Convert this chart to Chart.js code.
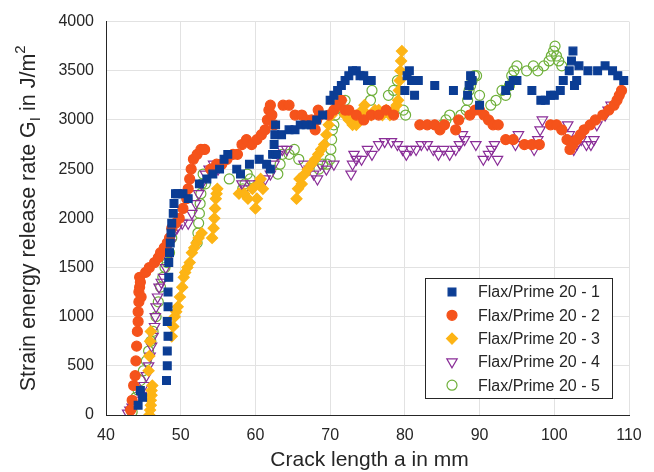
<!DOCTYPE html>
<html>
<head>
<meta charset="utf-8">
<script src="https://cdn.jsdelivr.net/npm/chart.js"></script>
<style>
  html, body { margin: 0; padding: 0; background: #fff; }
  #wrap { width: 654px; height: 472px; }
</style>
</head>
<body>
<div id="wrap"><canvas id="myChart"></canvas></div>
<script>
const seriesNames = ['Flax/Prime 20 - 1', 'Flax/Prime 20 - 2', 'Flax/Prime 20 - 3', 'Flax/Prime 20 - 4', 'Flax/Prime 20 - 5'];
const xTicks = [40, 50, 60, 70, 80, 90, 100, 110];
const yTicks = [0, 500, 1000, 1500, 2000, 2500, 3000, 3500, 4000];

// Flax/Prime 20 - 1
const s1x = [44.3,44.6,44.9, 48.1,48.2,48.2,48.3,48.2,48.3,48.3,48.4,48.4,48.5,48.6,48.7,48.8,49.0,49.1,49.3,49.6,50.3,51.0,
  52.5,53.5,54.3,55.2,55.8,56.3,57.5,58.0,59.2,60.5,61.5,62.0,62.3,62.5,62.6,62.7,62.8,63.5,64.5,65.3,66.0,66.8,67.5,68.2,69.0,
  70.0,70.5,71.0,71.5,72.0,72.5,73.0,73.5,74.0,74.5,75.0,75.5, 80.0,80.3,80.6,80.9,81.3,81.8, 84.0, 86.5, 88.4,88.6,88.8,89.0,
  90.0, 93.5,94.0,94.5,95.0, 97.0, 98.2,98.8,99.5,100.0, 100.8,101.2, 102.0,102.3,102.5,102.7,103.0,103.3, 104.5,105.8,106.8,107.8,108.5,109.3];
const s1y = [100,250,180, 350,500,650,800,950,1100,1250,1400,1550,1650,1750,1850,1950,2050,2150,2250,2250,2250,2200,
  2350,2400,2450,2500,2600,2650,2500,2450,2550,2600,2550,2500,2650,2750,2850,2950,2650,2850,2900,2900,2950,2950,2950,3000,3050,
  3200,3250,3300,3350,3400,3450,3500,3500,3450,3450,3400,3400, 3300,3450,3500,3400,3250,3400, 3350, 3300, 3250,3350,3450,3400,
  3150, 3300,3350,3400,3400, 3300, 3200,3200,3250,3250, 3300,3400, 3500,3600,3700,3350,3400,3550, 3500,3500,3550,3500,3450,3400];

// Flax/Prime 20 - 2
const s2x = [43.3,43.5,43.7,43.9,44.0,44.1,44.2,44.3,44.3,44.4,44.4,44.5,44.5,44.6,44.7, 45.3,45.8,46.5,47.0,47.3,47.8,48.2,
  48.5,48.8,49.3,49.8,50.3,50.8,51.0,51.2,51.4,51.7,52.2,52.7,53.2, 54.0,54.8,55.5,56.2,57.0,57.6,58.2,58.8,59.5,60.2,60.8,61.3,
  61.6,61.8,62.0,62.2,62.5, 63.7,64.5,65.3,66.2,66.8,67.5,68.0,68.2,68.4,68.6, 69.8,70.5,71.0,71.5,72.0,72.5,73.5,74.5,75.5,76.5,
  77.5,78.5, 82.0,83.0,84.0,84.7,85.3,86.8,87.2,88.7,89.4,90.0,90.6,91.2,91.8,92.5,93.5,94.5,96.0,97.0,98.0,99.5,100.3,101.0,
  101.7,102.1,102.5,103.0,103.5,104.0,104.8,105.5,106.5,107.3,108.0,108.4,108.7,109.0];
const s2y = [50,150,300,400,550,700,850,950,1050,1150,1250,1300,1400,1350,1200, 1450,1500,1550,1600,1650,1700,1750,
  1800,1900,1950,2000,2100,2200,2300,2400,2500,2600,2650,2700,2700, 2500,2550,2550,2600,2650,2650,2750,2800,2750,2800,2850,2900,
  3000,3100,3150,3050,2950, 3150,3150,3050,3050,3000,3000,2900,3000,3100,3050, 3050,3100,3150,3200,3100,3100,3050,3000,3050,3050,
  3100,3050, 2950,2950,2950,2900,2950,2900,3000,3050,3100,3100,3050,3000,2950,2950,2800,2800,2750,2750,2750,2950,2950,2900,
  2800,2700,2750,2800,2850,2900,2950,3000,3050,3100,3150,3200,3250,3300,3250];

// Flax/Prime 20 - 3
const s3x = [45.8,45.9,46.0,46.0,46.1,46.1,46.2, 45.7,45.8,45.9,46.0, 48.8,49.0,49.2,49.4,49.6,49.9,50.2,50.4,50.6,50.9,51.2,
  51.5,51.8,52.1,52.4,52.8, 54.2,54.4,54.5,54.6,54.7,54.8,54.9, 57.8,58.5,59.0,59.6,60.0,60.2,60.4,60.7,61.0, 65.5,65.7,65.9,
  66.2,66.6,67.0,67.5,68.0,68.4,68.8,69.2,69.5,69.8,70.2,70.6,71.0,71.5,72.0,72.5,73.0,73.5,74.0,74.3,74.6,75.0,75.5,76.0,76.5,
  77.0,77.5,78.0,78.5,78.9,79.1,79.2,79.3,79.4,79.5,79.6];
const s3y = [0,50,100,150,200,250,300, 450,600,750,850, 800,900,1000,1050,1100,1200,1300,1400,1450,1500,1550,
  1650,1700,1750,1800,1850, 1800,1900,2000,2100,2200,2250,2300, 2250,2250,2200,2300,2100,2200,2350,2400,2300, 2200,2300,2400,
  2350,2450,2500,2550,2600,2650,2700,2750,2850,2950,3050,3100,3150,3200,3050,3000,2950,2950,3000,3100,3150,3050,3050,3100,3100,
  3050,3100,3050,3100,3150,3200,3300,3400,3500,3600,3700,3150];

// Flax/Prime 20 - 4
const s4x = [42.9,43.2,43.5,43.9,44.3,44.7,45.1,45.4,45.7,45.9,46.1,46.3,46.5,46.6,46.7,46.9,47.1,47.4,47.7,48.0,48.3,48.6,
  49.0,49.5,50.2,51.0,51.5,52.0,52.4,52.8,53.3,53.8,54.4,55.0, 58.2,58.7,59.5,60.5,61.3,62.0,62.5,63.0,63.6,64.2, 66.5,67.2,
  67.8,68.3,68.7,69.5,70.5, 72.8,73.0,73.2,73.5,74.2,75.0,75.6,76.5,77.3,78.2,79.0,79.7,80.2,80.8,81.5,82.2,83.0,83.8,84.5,
  85.2,86.0,86.8,87.3,87.7,88.0,89.5,90.5,91.2,91.6,92.0,92.4,94.8,95.2,97.3,97.8,98.1,98.4,101.8,102.0,102.3,102.6,103.0,
  103.6,104.3,104.9,105.3,105.7,106.8,107.2,107.6];
const s4y = [20,50,80,100,150,200,300,400,500,600,700,800,900,1000,1100,1200,1300,1350,1400,1500,1600,1750,
  1850,1900,1950,1950,2050,2150,2250,2350,2450,2500,2550,2500, 2350,2300,2350,2350,2400,2450,2550,2650,2700,2700, 2550,2500,
  2450,2400,2550,2500,2550, 2450,2550,2650,2600,2600,2700,2650,2750,2780,2780,2750,2700,2650,2700,2700,2750,2750,2700,2650,
  2700,2650,2700,2750,2850,2800,2750,2600,2650,2700,2750,2600,2750,2850,2700,2800,2900,3000,2950,2850,2800,2700,2750,
  2800,2750,2750,2800,2950,3050,3100,3150,3050];

// Flax/Prime 20 - 5
const s5x = [43.5,43.7,44.0,44.3,44.6,45.0,45.4,45.7,46.0,46.3,46.7,47.0,47.3,47.6,47.9,48.2,48.5,48.8, 52.2,52.3,52.4,52.5,
  52.6,52.7,52.8,53.0,53.3, 56.5,58.3,58.6,58.9,59.3, 63.0,63.3,63.6,64.5,65.2,65.8, 68.5,69.0,69.6,70.0,70.1,70.2,70.3,70.5,
  70.7,71.0,71.3,71.6,72.0,72.5,73.0,75.4,75.6,77.8,78.5,79.0,79.8,80.1, 85.0,85.5,86.0,87.5,88.2,88.4,88.6,88.8,89.0,89.3,
  89.6,90.0,91.5,92.2,93.0,93.5,94.0,94.3,94.6,95.0,96.3,97.2,97.8,98.6,99.3,99.6,99.9,100.1,100.3,100.6,101.0];
const s5y = [30,100,180,250,350,450,550,650,750,850,1000,1150,1300,1400,1500,1550,1650,1800, 1750,1850,1950,2050,
  2150,2250,2350,2450,2350, 2400,2300,2350,2450,2400, 2450,2550,2650,2650,2700,2600, 2500,2550,2550,2600,2700,2800,2900,2950,
  3050,3150,3200,3100,3200,3050,3000,3200,3300,3250,3300,3400,3100,3050, 2950,3000,3050,3050,3100,3200,3300,3350,3400,3450,
  3450,3250,3150,3200,3300,3250,3350,3450,3500,3550,3500,3550,3500,3550,3600,3650,3700,3750,3650,3600,3550];

const FONT = "'Liberation Sans', Arial, sans-serif";
const INK = '#262626';

const styles = [
  { color: '#0b3d94', fill: '#0b3d94', pointStyle: 'rect', radius: 5.5, rotation: 0 },
  { color: '#f5531b', fill: '#f5531b', pointStyle: 'circle', radius: 5, rotation: 0 },
  { color: '#fdb415', fill: '#fdb415', pointStyle: 'rectRot', radius: 5.5, rotation: 0 },
  { color: '#8a2e98', fill: 'rgba(255,255,255,0)', pointStyle: 'triangle', radius: 6, rotation: 180 },
  { color: '#6fb03a', fill: 'rgba(255,255,255,0)', pointStyle: 'circle', radius: 5, rotation: 0 }
];

function zip(xs, ys) {
  return xs.map((x, i) => ({ x: x, y: ys[i] }));
}
const allX = [s1x, s2x, s3x, s4x, s5x];
const allY = [s1y, s2y, s3y, s4y, s5y];

const datasets = seriesNames.map((name, i) => ({
  label: name,
  data: zip(allX[i], allY[i]),
  showLine: false,
  pointStyle: styles[i].pointStyle,
  pointRotation: styles[i].rotation,
  pointRadius: styles[i].radius,
  pointBackgroundColor: styles[i].fill,
  pointBorderColor: styles[i].color,
  pointBorderWidth: 1.2
}));

// titles with sub/superscript + boxed legend inside the plot
const decorations = {
  id: 'decorations',
  afterDraw(chart) {
    const ctx = chart.ctx;
    const area = chart.chartArea;
    ctx.save();
    ctx.fillStyle = INK;

    // x title
    ctx.font = '21px ' + FONT;
    ctx.textAlign = 'center';
    ctx.textBaseline = 'alphabetic';
    ctx.fillText('Crack length a in mm', (area.left + area.right) / 2 + 2, 466);

    // y title, rotated
    const main = '21.5px ' + FONT, small = '15px ' + FONT;
    const parts = [
      { t: 'Strain energy release rate G', f: main, dy: 0 },
      { t: 'I', f: small, dy: 5 },
      { t: ' in J/m', f: main, dy: 0 },
      { t: '2', f: small, dy: -10 }
    ];
    let total = 0;
    parts.forEach(p => { ctx.font = p.f; p.w = ctx.measureText(p.t).width; total += p.w; });
    ctx.translate(35, (area.top + area.bottom) / 2);
    ctx.rotate(-Math.PI / 2);
    ctx.textAlign = 'left';
    let cx = -total / 2;
    parts.forEach(p => {
      ctx.font = p.f;
      ctx.fillText(p.t, cx, p.dy);
      cx += p.w;
    });
    ctx.restore();

    // legend
    ctx.save();
    const bx = 425, by = 278, bw = 187, bh = 120;
    ctx.fillStyle = '#ffffff';
    ctx.fillRect(bx, by, bw, bh);
    ctx.strokeStyle = '#262626';
    ctx.lineWidth = 1;
    ctx.strokeRect(bx + 0.5, by + 0.5, bw, bh);
    ctx.font = '16px ' + FONT;
    ctx.textBaseline = 'middle';
    ctx.textAlign = 'left';
    seriesNames.forEach((name, i) => {
      const yy = by + 14 + i * 23.3;
      const st = styles[i];
      ctx.fillStyle = st.fill === 'rgba(255,255,255,0)' ? '#ffffff' : st.fill;
      ctx.strokeStyle = st.color;
      ctx.lineWidth = 1.2;
      Chart.helpers.drawPoint(ctx, {
        pointStyle: st.pointStyle, rotation: st.rotation, radius: st.radius, borderWidth: 1.2
      }, 452, yy);
      ctx.fillStyle = INK;
      ctx.fillText(name, 478, yy + 1);
    });
    ctx.restore();
  }
};

new Chart(document.getElementById('myChart'), {
  type: 'scatter',
  data: { datasets: datasets },
  options: {
    responsive: true,
    maintainAspectRatio: false,
    animation: false,
    layout: { padding: { left: 0, right: 25, top: 15, bottom: 0 } },
    plugins: {
      legend: { display: false },
      tooltip: { enabled: false }
    },
    scales: {
      x: {
        type: 'linear',
        min: 40,
        max: 110,
        afterFit(scale) { scale.height = 57; },
        afterBuildTicks(scale) { scale.ticks = xTicks.map(v => ({ value: v })); },
        grid: { color: '#e2e2e2', drawTicks: false },
        border: { display: true, color: INK, width: 1 },
        ticks: { color: INK, font: { family: FONT, size: 16 }, padding: 11, maxRotation: 0,
          callback: v => String(v) }
      },
      y: {
        type: 'linear',
        min: 0,
        max: 4000,
        afterFit(scale) { scale.width = 106; },
        afterBuildTicks(scale) { scale.ticks = yTicks.map(v => ({ value: v })); },
        grid: { color: '#e2e2e2', drawTicks: false },
        border: { display: true, color: INK, width: 1 },
        ticks: { color: INK, font: { family: FONT, size: 16 }, padding: 12,
          callback: v => String(v) }
      }
    }
  },
  plugins: [decorations]
});
</script>
</body>
</html>
